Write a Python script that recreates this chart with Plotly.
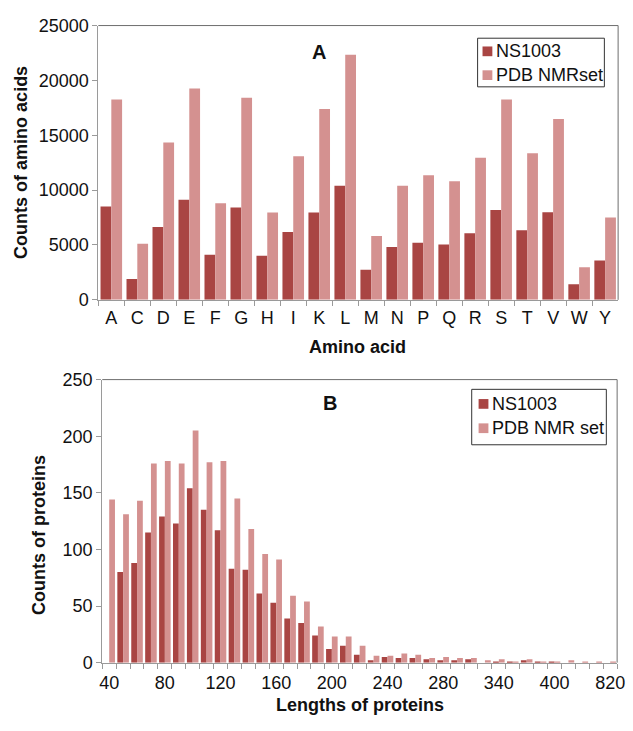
import plotly.graph_objects as go

# ---------------- Data ----------------
amino_acids = ["A", "C", "D", "E", "F", "G", "H", "I", "K", "L",
               "M", "N", "P", "Q", "R", "S", "T", "V", "W", "Y"]
ns1003_aa = [8510, 1890, 6650, 9130, 4110, 8420, 4020, 6180, 7950, 10400,
             2750, 4820, 5200, 5050, 6060, 8190, 6350, 7980, 1420, 3580]
pdb_nmr_aa = [18260, 5110, 14330, 19270, 8810, 18410, 7950, 13090, 17400, 22340,
              5820, 10400, 11350, 10820, 12940, 18260, 13360, 16490, 2960, 7510]

# protein-length histogram (37 bins, every 4th bin labelled)
ns1003_len = [0, 80, 88, 115, 129, 123, 154, 135, 117, 83, 82, 61, 53, 39, 35, 24,
              12, 15, 7, 2, 5, 4, 4, 3, 2, 2, 3, 0, 1, 1, 2, 1, 1, 0, 0, 0, 0]
pdb_nmr_len = [144, 131, 143, 176, 178, 176, 205, 177, 178, 145, 118, 96, 91, 59, 54, 32,
               23, 23, 15, 6, 6, 8, 7, 4, 5, 4, 4, 2, 3, 1, 3, 1, 1, 2, 1, 1, 1]
length_tick_labels = ["40", "80", "120", "160", "200", "240", "280", "340", "400", "820"]
label_every = 4

series_names_a = ["NS1003", "PDB NMRset"]
series_names_b = ["NS1003", "PDB NMR set"]

# ---------------- Style ----------------
W, H = 633, 731
DARK = "#A94543"
LIGHT = "#D49190"
AXIS = "#9a9a9a"
BORDER = "#6e6e6e"
FONT = "Liberation Sans, Arial, sans-serif"
COLORS = [DARK, LIGHT]

def px_x(p):
    return p / W

def px_y(p):
    return 1 - p / H

bin_idx = list(range(len(ns1003_len)))

fig = go.Figure()

for name, vals, col in zip(series_names_a, [ns1003_aa, pdb_nmr_aa], COLORS):
    fig.add_trace(go.Bar(x=amino_acids, y=vals, name=name,
                         marker=dict(color=col, line=dict(width=0)),
                         xaxis="x", yaxis="y", showlegend=False))
for name, vals, col in zip(series_names_b, [ns1003_len, pdb_nmr_len], COLORS):
    fig.add_trace(go.Bar(x=bin_idx, y=vals, name=name,
                         marker=dict(color=col, line=dict(width=0)),
                         xaxis="x2", yaxis="y2", showlegend=False))

tickfont = dict(family=FONT, size=18, color="#111")
nb = len(ns1003_len)

fig.update_layout(
    width=W, height=H,
    margin=dict(l=0, r=0, t=0, b=0),
    paper_bgcolor="white", plot_bgcolor="white",
    barmode="group", bargap=0.17, bargroupgap=0.0,
    font=dict(family=FONT, color="#111"),
    xaxis=dict(domain=[px_x(97), px_x(626)], anchor="y",
               type="category", tickson="boundaries",
               ticks="outside", ticklen=5, tickcolor=AXIS,
               showline=True, linecolor=AXIS, linewidth=1,
               showgrid=False, tickfont=tickfont, zeroline=False,
               ticklabelstandoff=2),
    yaxis=dict(domain=[px_y(298), px_y(16)], anchor="x",
               range=[0, 25000], dtick=5000, tickformat="d",
               ticks="outside", ticklen=5, tickcolor=AXIS,
               showline=True, linecolor=AXIS, linewidth=1,
               showgrid=False, tickfont=tickfont, zeroline=False),
    xaxis2=dict(domain=[px_x(101), px_x(625)], anchor="y2",
                range=[-0.5, nb - 0.5],
                tickvals=bin_idx[::label_every], ticktext=length_tick_labels,
                ticks="", showline=True, linecolor=AXIS, linewidth=1,
                minor=dict(tickvals=[i - 0.5 for i in range(nb + 1)],
                           ticks="outside", ticklen=5, tickcolor=AXIS, showgrid=False),
                showgrid=False, tickfont=tickfont, zeroline=False,
                ticklabelstandoff=4),
    yaxis2=dict(domain=[px_y(671), px_y(380)], anchor="x2",
                range=[0, 250], dtick=50,
                ticks="outside", ticklen=5, tickcolor=AXIS,
                showline=True, linecolor=AXIS, linewidth=1,
                showgrid=False, tickfont=tickfont, zeroline=False),
    showlegend=False,
)

# plot-area borders (top/right darker)
for xr, yr in (("x domain", "y domain"), ("x2 domain", "y2 domain")):
    fig.add_shape(type="line", xref=xr, yref=yr, x0=0, x1=1, y0=1, y1=1,
                  line=dict(color=BORDER, width=1))
    fig.add_shape(type="line", xref=xr, yref=yr, x0=1, x1=1, y0=0, y1=1,
                  line=dict(color=BORDER, width=1))

# legends (boxes with swatches and real text)
legends = [
    dict(box=(483, 29, 612, 79), names=series_names_a, sw_x=488, txt_x=500, rows=[42.5, 67]),
    dict(box=(477, 390, 614, 447), names=series_names_b, sw_x=484, txt_x=496, rows=[405, 430]),
]
for lg in legends:
    x0, y0, x1, y1 = lg["box"]
    fig.add_shape(type="rect", xref="paper", yref="paper",
                  x0=px_x(x0), x1=px_x(x1), y0=px_y(y1), y1=px_y(y0),
                  line=dict(color="#333", width=1), fillcolor="white", layer="above")
    for name, col, ry in zip(lg["names"], COLORS, lg["rows"]):
        fig.add_shape(type="rect", xref="paper", yref="paper",
                      x0=px_x(lg["sw_x"]), x1=px_x(lg["sw_x"] + 10),
                      y0=px_y(ry + 5), y1=px_y(ry - 5),
                      line=dict(width=0), fillcolor=col, layer="above")
        fig.add_annotation(text=name, x=px_x(lg["txt_x"]), y=px_y(ry),
                           xref="paper", yref="paper", xanchor="left", yanchor="middle",
                           showarrow=False,
                           font=dict(family=FONT, size=18, color="#111"))

annots = [
    dict(text="<b>A</b>", x=px_x(322), y=px_y(43), size=20, angle=0),
    dict(text="<b>B</b>", x=px_x(333), y=px_y(404), size=20, angle=0),
    dict(text="<b>Counts of amino acids</b>", x=px_x(18.5), y=px_y(157), size=18, angle=-90),
    dict(text="<b>Amino acid</b>", x=px_x(361), y=px_y(346), size=18, angle=0),
    dict(text="<b>Counts of proteins</b>", x=px_x(36.5), y=px_y(540), size=18, angle=-90),
    dict(text="<b>Lengths of proteins</b>", x=px_x(363), y=px_y(715), size=18, angle=0),
]
for a in annots:
    fig.add_annotation(text=a["text"], x=a["x"], y=a["y"], xref="paper", yref="paper",
                       xanchor="center", yanchor="middle", showarrow=False,
                       textangle=a["angle"],
                       font=dict(family=FONT, size=a["size"], color="#111"))

fig.write_html("out.html")
